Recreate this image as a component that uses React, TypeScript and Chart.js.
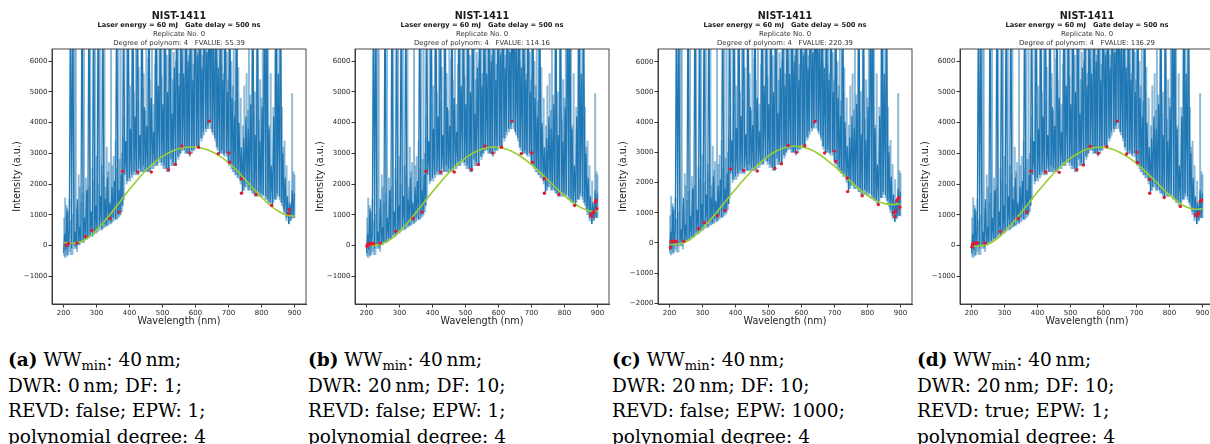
import { useEffect, useRef } from 'react';
import { Chart, registerables } from 'chart.js';

Chart.register(...registerables);

// ---------- data ----------
const WL_START = 200;
const WL_STEP = 3.5;
// dark spectrum line, sampled every 3.5 nm from 200 to 900 nm
const SPECTRUM = [
  -250, 380, -150, 1200, -50, 420, 9000, -100, 9000, 0, 450, -50, 1500, 50, 600,
  100, 9000, 150, 900, 200, 1800, 250, 9000, 350, 1100, 300, 9000, 450, 1300,
  500, 9000, 600, 1600, 550, 9000, 700, 1500, 650, 2200, 800, 1400, 750, 1900,
  900, 2100, 850, 9000, 1000, 1800, 1050, 2300, 1300, 9000, 2300, 3400, 2100, 9000,
  2200, 3800, 2300, 9000, 2400, 4200, 2350, 9000, 2500, 3600, 2400, 9000, 2600, 4500,
  2500, 3900, 2400, 9000, 2450, 4800, 2600, 3700, 2700, 9000, 2650, 5200, 2800, 9000,
  2700, 4600, 2600, 9000, 2500, 5000, 2450, 9000, 2800, 4300, 2700, 5800, 2650, 9000,
  2900, 5200, 3000, 9000, 3250, 5600, 3100, 9000, 3000, 6000, 2950, 9000, 3100, 5400,
  3150, 9000, 3250, 6200, 3200, 9000, 3500, 5800, 3700, 9000, 3800, 6300, 3900, 9000,
  4000, 9000, 3700, 6400, 3500, 9000, 3200, 5800, 3000, 9000, 3100, 5400, 2950, 9000,
  3000, 5000, 2700, 9000, 2600, 4800, 2500, 4200, 2400, 9000, 2300, 4000, 2100, 3200,
  1700, 3500, 1900, 4200, 2000, 3800, 1900, 4600, 1800, 9000, 1700, 3600, 1600, 9000,
  1750, 3400, 1700, 4500, 1650, 9000, 1600, 9000, 1500, 3800, 1400, 2600, 1300, 4200,
  1500, 9000, 1700, 5600, 1600, 9000, 1400, 3000, 1100, 2200, 900, 1600, 700, 1400,
  800, 1800, 900, 1700,
];
// lighter (raw) emission lines: [wavelength, base, top]
const LIGHT_LINES = [
  [202, -350, 900], [205, -400, 1550], [209, -300, 1300], [211, -350, 1000], [214, -300, 1100],
  [218, -200, 1500], [222, -300, 800], [227, -300, 1000], [233, -100, 8000], [237, -100, 8000],
  [241, -200, 1200], [246, 0, 2300], [249, 0, 1900], [254, 100, 1400], [258, 100, 1700],
  [262, 100, 8000], [268, 200, 2200], [272, 200, 1600], [276, 250, 1900], [281, 300, 8000],
  [288, 300, 2500], [292, 350, 2100], [296, 400, 8000], [300, 400, 2900], [304, 450, 2000],
  [310, 500, 8000], [316, 500, 2600], [320, 550, 2300], [324, 600, 8000], [327, 600, 1900],
  [331, 650, 3200], [335, 650, 2400], [338, 700, 2700], [344, 700, 8000], [348, 750, 2600],
  [352, 800, 2900], [358, 850, 3400], [362, 850, 2500], [366, 900, 8000], [370, 950, 2800],
  [373, 1000, 8000], [377, 1100, 3000], [380, 1300, 3500], [383, 1500, 4200], [391, 2000, 8000],
  [396, 2100, 4600], [402, 2100, 5200], [408, 2200, 8000], [413, 2300, 5000], [419, 2300, 8000],
  [424, 2300, 4700], [428, 2300, 5800], [436, 2400, 8000], [440, 2400, 5100], [443, 2400, 5600],
  [447, 2400, 4400], [451, 2400, 8000], [457, 2400, 6100], [461, 2400, 5400], [468, 2500, 8000],
  [473, 2500, 4600], [478, 2600, 5900], [481, 2600, 5300], [485, 2600, 8000], [492, 2700, 8000],
  [497, 2600, 5500], [503, 2500, 8000], [508, 2500, 5700], [513, 2400, 6200], [517, 2400, 4900],
  [520, 2400, 8000], [527, 2600, 8000], [531, 2600, 5400], [534, 2600, 6300], [541, 2600, 6000],
  [548, 2800, 8000], [551, 2900, 5600], [555, 3000, 8000], [559, 3100, 6100], [562, 3100, 8000],
  [569, 3000, 8000], [573, 3000, 5800], [576, 3000, 8000], [580, 3000, 6200], [583, 2900, 8000],
  [590, 3000, 8000], [594, 3100, 5900], [597, 3100, 8000], [604, 3200, 8000], [607, 3200, 6300],
  [611, 3200, 8000], [618, 3400, 8000], [621, 3500, 6200], [625, 3600, 8000], [632, 3700, 8000],
  [636, 3800, 6300], [639, 3800, 8000], [646, 3800, 8000], [650, 3700, 6300], [653, 3600, 8000],
  [660, 3400, 8000], [664, 3200, 6000], [667, 3100, 8000], [674, 3000, 8000], [678, 3000, 5900],
  [681, 3000, 8000], [685, 3000, 5600], [688, 2900, 8000], [695, 2900, 6300], [699, 2700, 5400],
  [702, 2600, 8000], [709, 2500, 6000], [713, 2400, 5200], [716, 2400, 8000], [720, 2300, 4700],
  [723, 2300, 8000], [727, 2200, 5000], [730, 2200, 5800], [737, 2000, 4800], [744, 1800, 3900],
  [748, 1800, 5200], [755, 1900, 5600], [759, 1800, 4400], [762, 1800, 8000], [766, 1800, 4900],
  [772, 1700, 8000], [776, 1700, 4300], [780, 1600, 5000], [786, 1600, 8000], [792, 1600, 4100],
  [796, 1600, 5400], [800, 1600, 4800], [804, 1600, 8000], [812, 1500, 8000], [816, 1500, 4600],
  [820, 1400, 8000], [824, 1400, 3900], [828, 1300, 5600], [836, 1400, 4500], [842, 1500, 8000],
  [845, 1500, 5200], [848, 1600, 8000], [855, 1500, 8000], [858, 1400, 4200], [862, 1300, 4500],
  [866, 1200, 3200], [870, 1000, 3400], [876, 800, 2600], [884, 700, 2100], [893, 900, 4950],
  [897, 900, 2400], [900, 900, 2300],
];

const FIT_WL = [200, 225, 250, 275, 300, 325, 350, 375, 400, 425, 450, 475, 500, 525, 550, 575, 600, 625, 650, 675, 700, 725, 750, 775, 800, 825, 850, 875, 900];
const FIT_A = [100, 70, 110, 250, 500, 800, 1130, 1480, 1830, 2150, 2450, 2700, 2900, 3050, 3150, 3200, 3200, 3150, 3050, 2900, 2700, 2450, 2150, 1850, 1570, 1320, 1120, 990, 950];
const FIT_B = [0, 0, 60, 210, 450, 740, 1070, 1410, 1750, 2070, 2370, 2630, 2850, 3020, 3140, 3200, 3190, 3130, 3010, 2840, 2630, 2390, 2130, 1870, 1620, 1400, 1230, 1130, 1110];
const FIT_C = [-50, -40, 40, 220, 480, 780, 1110, 1450, 1780, 2100, 2400, 2660, 2880, 3050, 3160, 3200, 3180, 3100, 2960, 2760, 2540, 2290, 2030, 1780, 1570, 1410, 1310, 1270, 1300];
const FIT_D = [-30, -20, 40, 200, 440, 730, 1060, 1400, 1740, 2060, 2360, 2620, 2840, 3010, 3130, 3190, 3190, 3140, 3030, 2870, 2670, 2430, 2170, 1900, 1640, 1420, 1260, 1180, 1190];

const POINTS_A = [[209, 0], [215, 60], [241, 75], [266, 290], [286, 490], [341, 880], [368, 1085], [379, 2420], [425, 2390], [466, 2390], [518, 2470], [539, 2640], [559, 3240], [583, 3010], [609, 3200], [641, 4050], [669, 2990], [701, 3010], [703, 2710], [739, 2170], [739, 1700], [783, 1660], [831, 1300], [882, 1040], [884, 1170]];
const POINTS_B = [[201, -30], [203, 30], [206, 50], [209, 20], [213, 60], [217, 50], [222, 60], [241, 75], [288, 460], [341, 880], [368, 1085], [380, 2420], [425, 2390], [466, 2390], [518, 2470], [539, 2640], [559, 3240], [583, 3010], [609, 3200], [641, 4050], [669, 2990], [701, 3010], [703, 2710], [739, 2170], [739, 1700], [783, 1660], [831, 1300], [880, 1000], [883, 930], [886, 1050], [889, 1100], [893, 1400], [896, 1470], [898, 1200]];
const POINTS_C = [[203, -150], [205, 40], [209, 50], [213, 60], [217, 60], [221, 50], [243, 60], [288, 470], [305, 680], [345, 900], [368, 1080], [385, 2450], [425, 2400], [466, 2380], [519, 2470], [539, 2620], [560, 3230], [585, 3000], [610, 3220], [641, 4020], [670, 2980], [700, 3040], [704, 2700], [739, 2150], [740, 1700], [784, 1560], [833, 1270], [880, 1000], [883, 880], [886, 1050], [889, 1400], [892, 1460], [895, 1500], [898, 1180]];
const POINTS_D = [[201, -50], [203, 20], [206, 60], [210, 70], [214, 80], [219, 80], [240, 80], [288, 450], [341, 880], [368, 1080], [380, 2420], [425, 2390], [466, 2380], [519, 2470], [539, 2620], [560, 3230], [585, 3000], [610, 3220], [641, 4050], [670, 2980], [701, 3040], [703, 2700], [740, 2150], [740, 1700], [784, 1560], [833, 1270], [880, 1000], [883, 960], [886, 1020], [889, 1050], [893, 1430], [897, 1480]];

const FVALUES = ['55.39', '114.16', '220.39', '136.29'];
const Y_TICKS_STD = [-1000, 0, 1000, 2000, 3000, 4000, 5000, 6000];
const Y_TICKS_C = [-2000, -1000, 0, 1000, 2000, 3000, 4000, 5000, 6000];
const X_TICKS = [200, 300, 400, 500, 600, 700, 800, 900];

const SANS = '"DejaVu Sans", sans-serif';

const decor = {
  id: 'decor',
  afterDraw(chart: any, _args: any, opts: any) {
    const { ctx, chartArea: a } = chart;
    ctx.save();
    ctx.strokeStyle = '#333';
    ctx.lineWidth = 0.9;
    ctx.strokeRect(a.left, a.top, a.right - a.left, a.bottom - a.top);
    const cx = (a.left + a.right) / 2;
    ctx.fillStyle = '#1a1a1a';
    ctx.textAlign = 'center';
    ctx.textBaseline = 'middle';
    ctx.font = `bold 9.6px ${SANS}`;
    ctx.fillText('NIST-1411', cx, 16);
    ctx.font = `bold 6.7px ${SANS}`;
    ctx.fillText('Laser energy = 60 mJ   Gate delay = 500 ns', cx, 25);
    ctx.fillStyle = '#333';
    ctx.font = `6.9px ${SANS}`;
    ctx.fillText('Replicate No. 0', cx, 34);
    ctx.fillText(`Degree of polynom: 4   FVALUE: ${opts.fvalue}`, cx, 43);
    ctx.fillStyle = '#222';
    ctx.font = `9.6px ${SANS}`;
    ctx.fillText('Wavelength (nm)', cx, 321);
    ctx.translate(17, (a.top + a.bottom) / 2);
    ctx.rotate(-Math.PI / 2);
    ctx.fillText('Intensity (a.u.)', 0, 0);
    ctx.restore();
  },
};

type PanelProps = {
  left: number;
  fit: number[];
  points: number[][];
  fvalue: string;
  ymin: number;
  ymax: number;
  yTicks: number[];
};

function Panel({ left, fit, points, fvalue, ymin, ymax, yTicks }: PanelProps) {
  const ref = useRef<HTMLCanvasElement | null>(null);
  useEffect(() => {
    if (!ref.current) return;
    const fmt = (v: number) => (v < 0 ? '\u2212' + Math.abs(v) : String(v));
    const chart = new Chart(ref.current, {
      type: 'bar',
      data: {
        datasets: [
          {
            type: 'scatter',
            data: points.map(([x, y]) => ({ x, y })),
            showLine: false,
            pointRadius: 1.7,
            pointBackgroundColor: 'rgb(228,26,48)',
            pointBorderWidth: 0,
            order: 1,
          } as any,
          {
            type: 'line',
            data: FIT_WL.map((x, i) => ({ x, y: fit[i] })),
            borderColor: '#9acd32',
            borderWidth: 1.6,
            pointRadius: 0,
            tension: 0.4,
            order: 2,
          } as any,
          {
            type: 'line',
            data: SPECTRUM.map((y, i) => ({ x: WL_START + i * WL_STEP, y })),
            borderColor: '#1f77b4',
            borderWidth: 1.25,
            pointRadius: 0,
            tension: 0,
            order: 3,
          } as any,
          {
            type: 'bar',
            data: LIGHT_LINES.map(([x, b, t]) => ({ x, y: [b, t] })),
            backgroundColor: 'rgba(31,119,180,0.5)',
            barThickness: 1.3,
            grouped: false,
            order: 4,
          } as any,
        ],
      },
      options: {
        responsive: false,
        animation: false,
        events: [],
        layout: { padding: { top: 49, right: 3, left: 0, bottom: 0 } },
        plugins: {
          legend: { display: false },
          tooltip: { enabled: false },
          title: { display: false },
          decor: { fvalue },
        } as any,
        scales: {
          x: {
            type: 'linear',
            min: 165,
            max: 935,
            offset: false,
            grid: { display: true, drawOnChartArea: false, drawTicks: true, tickLength: 3.5, color: '#333', offset: false },
            border: { display: true, color: '#333', width: 0.9 },
            ticks: { font: { family: SANS, size: 7 }, color: '#262626', padding: 1, maxRotation: 0, autoSkip: false, callback: (v: any) => String(v) },
            afterBuildTicks: (s: any) => { s.ticks = X_TICKS.map((value) => ({ value })); },
            afterFit: (s: any) => { s.height = 26; },
          },
          y: {
            type: 'linear',
            min: ymin,
            max: ymax,
            grid: { display: true, drawOnChartArea: false, drawTicks: true, tickLength: 3.5, color: '#333' },
            border: { display: true, color: '#333', width: 0.9 },
            ticks: { font: { family: SANS, size: 7 }, color: '#262626', padding: 1, autoSkip: false, callback: (v: any) => fmt(Number(v)) },
            afterBuildTicks: (s: any) => { s.ticks = yTicks.map((value) => ({ value })); },
            afterFit: (s: any) => { s.width = 52; },
          },
        } as any,
      },
      plugins: [decor],
    } as any);
    return () => chart.destroy();
  }, [fit, points, fvalue, ymin, ymax, yTicks]);
  return (
    <canvas
      ref={ref}
      width={310}
      height={330}
      style={{ position: 'absolute', left, top: 0, width: 310, height: 330 }}
    />
  );
}

const CAPTIONS = [
  { label: '(a)', lines: ['DWR: 0\u2009nm; DF: 1;', 'REVD: false; EPW: 1;', 'polynomial degree: 4'] },
  { label: '(b)', lines: ['DWR: 20\u2009nm; DF: 10;', 'REVD: false; EPW: 1;', 'polynomial degree: 4'] },
  { label: '(c)', lines: ['DWR: 20\u2009nm; DF: 10;', 'REVD: false; EPW: 1000;', 'polynomial degree: 4'] },
  { label: '(d)', lines: ['DWR: 20\u2009nm; DF: 10;', 'REVD: true; EPW: 1;', 'polynomial degree: 4'] },
];
const CAPTION_X = [8, 308, 612, 917];
const PANEL_LEFT = [0, 303, 606, 908];

function Caption({ x, label, lines }: { x: number; label: string; lines: string[] }) {
  return (
    <div
      style={{
        position: 'absolute',
        left: x,
        top: 347,
        fontFamily: '"DejaVu Serif", serif',
        fontSize: 18.5,
        lineHeight: '25.5px',
        color: '#000',
        whiteSpace: 'pre',
      }}
    >
      <div>
        <b>{label}</b> WW
        <span style={{ fontSize: 13, position: 'relative', top: 4, lineHeight: 0 }}>min</span>: 40{'\u2009'}nm;
      </div>
      {lines.map((l, i) => (
        <div key={i}>{l}</div>
      ))}
    </div>
  );
}

export default function App() {
  const fits = [FIT_A, FIT_B, FIT_C, FIT_D];
  const pts = [POINTS_A, POINTS_B, POINTS_C, POINTS_D];
  return (
    <div style={{ position: 'absolute', left: 0, top: 0, width: 1210, height: 444, overflow: 'hidden', background: '#fff' }}>
      {fits.map((f, i) => (
        <Panel
          key={i}
          left={PANEL_LEFT[i]}
          fit={f}
          points={pts[i]}
          fvalue={FVALUES[i]}
          ymin={i === 2 ? -2020 : -1910}
          ymax={i === 2 ? 6420 : 6400}
          yTicks={i === 2 ? Y_TICKS_C : Y_TICKS_STD}
        />
      ))}
      {CAPTIONS.map((c, i) => (
        <Caption key={i} x={CAPTION_X[i]} label={c.label} lines={c.lines} />
      ))}
    </div>
  );
}
